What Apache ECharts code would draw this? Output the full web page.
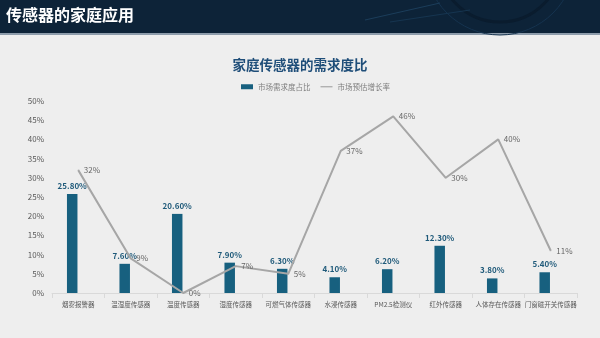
<!DOCTYPE html>
<html>
<head>
<meta charset="utf-8">
<script src="https://cdn.jsdelivr.net/npm/echarts@6/dist/echarts.min.js"></script>
<style>
  html, body { margin: 0; padding: 0; background: #eeeeee; }
  #chart { width: 600px; height: 338px; }
</style>
</head>
<body>
<div id="chart"></div>
<script>
const categories = ['烟雾报警器', '温湿度传感器', '温度传感器', '湿度传感器', '可燃气体传感器', '水浸传感器', 'PM2.5检测仪', '红外传感器', '人体存在传感器', '门窗磁开关传感器'];
const demandShare = [25.8, 7.6, 20.6, 7.9, 6.3, 4.1, 6.2, 12.3, 3.8, 5.4];
const growthRate = [32, 9, 0, 7, 5, 37, 46, 30, 40, 11];
const yTicks = [0, 50, 5];

const FONT = '"Noto Sans CJK SC", "Noto Sans", sans-serif';
const chart = echarts.init(document.getElementById('chart'), null, { renderer: 'canvas' });

chart.setOption({
  backgroundColor: '#eeeeee',
  textStyle: { fontFamily: FONT },
  graphic: [
    // header band with faint decorative rings
    { type: 'rect', left: 0, top: 0, shape: { width: 600, height: 33 }, style: { fill: '#0d2338' }, z: 0 },
    { type: 'rect', left: 0, top: 33, shape: { width: 600, height: 2 }, style: { fill: '#8d9cab' }, z: 0 },
    { type: 'circle', shape: { cx: 500, cy: -40, r: 75 }, style: { fill: 'none', stroke: '#15334f', lineWidth: 1 }, z: 1 },
    { type: 'circle', shape: { cx: 500, cy: -40, r: 62 }, style: { fill: 'none', stroke: '#0a1c2e', lineWidth: 3 }, z: 1 },
    { type: 'line', shape: { x1: 365, y1: 20, x2: 440, y2: 3 }, style: { stroke: '#1b3d5a', lineWidth: 1 }, z: 1 },
    { type: 'line', shape: { x1: 390, y1: 22, x2: 470, y2: 10 }, style: { stroke: '#163550', lineWidth: 1 }, z: 1 },
    {
      type: 'text', left: 6, top: 7,
      style: { text: '传感器的家庭应用', fill: '#ffffff', font: 'bold 16px ' + FONT },
      z: 2
    }
  ],
  title: {
    text: '家庭传感器的需求度比',
    left: 'center', top: 53,
    textStyle: { color: '#1f4e79', fontSize: 13.5, fontWeight: 'bold', fontFamily: FONT }
  },
  legend: {
    top: 78, left: 236, itemGap: 10,
    itemWidth: 12, itemHeight: 5,
    textStyle: { color: '#7f7f7f', fontSize: 7.5, fontFamily: FONT },
    data: [
      { name: '市场需求度占比', icon: 'rect' },
      { name: '市场预估增长率', icon: 'path://M0,0 L10,0 L10,1 L0,1 Z' }
    ]
  },
  grid: { left: 52, right: 23, top: 101, bottom: 45, containLabel: false },
  xAxis: {
    type: 'category',
    data: categories,
    axisLine: { lineStyle: { color: '#d9d9d9' } },
    axisTick: { show: true, length: 5, lineStyle: { color: '#d9d9d9' } },
    axisLabel: { color: '#595959', fontSize: 6.5, margin: 8, interval: 0, fontFamily: FONT }
  },
  yAxis: {
    type: 'value',
    min: yTicks[0], max: yTicks[1], interval: yTicks[2],
    splitLine: { show: false },
    axisLine: { show: false },
    axisTick: { show: false },
    axisLabel: { color: '#595959', fontSize: 8, margin: 8, formatter: '{value}%', fontFamily: FONT }
  },
  series: [
    {
      name: '市场需求度占比',
      type: 'bar',
      data: demandShare,
      barWidth: 10.5,
      barGap: '15%',
      itemStyle: { color: '#17607f' },
      label: {
        show: true, position: 'top', distance: 4,
        color: '#1f5a7a', fontSize: 8, fontWeight: 'bold', fontFamily: FONT,
        formatter: p => p.value.toFixed(2) + '%'
      }
    },
    {
      // empty slot beside each bar, keeps bars left of the category centre
      name: 'slot',
      type: 'bar',
      data: categories.map(() => null),
      barWidth: 10.5,
      silent: true
    },
    {
      name: '市场预估增长率',
      type: 'line',
      data: growthRate,
      symbol: 'circle',
      symbolSize: 1,
      showSymbol: true,
      lineStyle: { color: '#a6a6a6', width: 2 },
      itemStyle: { color: '#a6a6a6' },
      label: {
        show: true, position: 'right', distance: 5,
        color: '#666666', fontSize: 8, fontFamily: FONT,
        formatter: p => p.value + '%'
      },
      z: 3
    }
  ]
});
</script>
</body>
</html>
